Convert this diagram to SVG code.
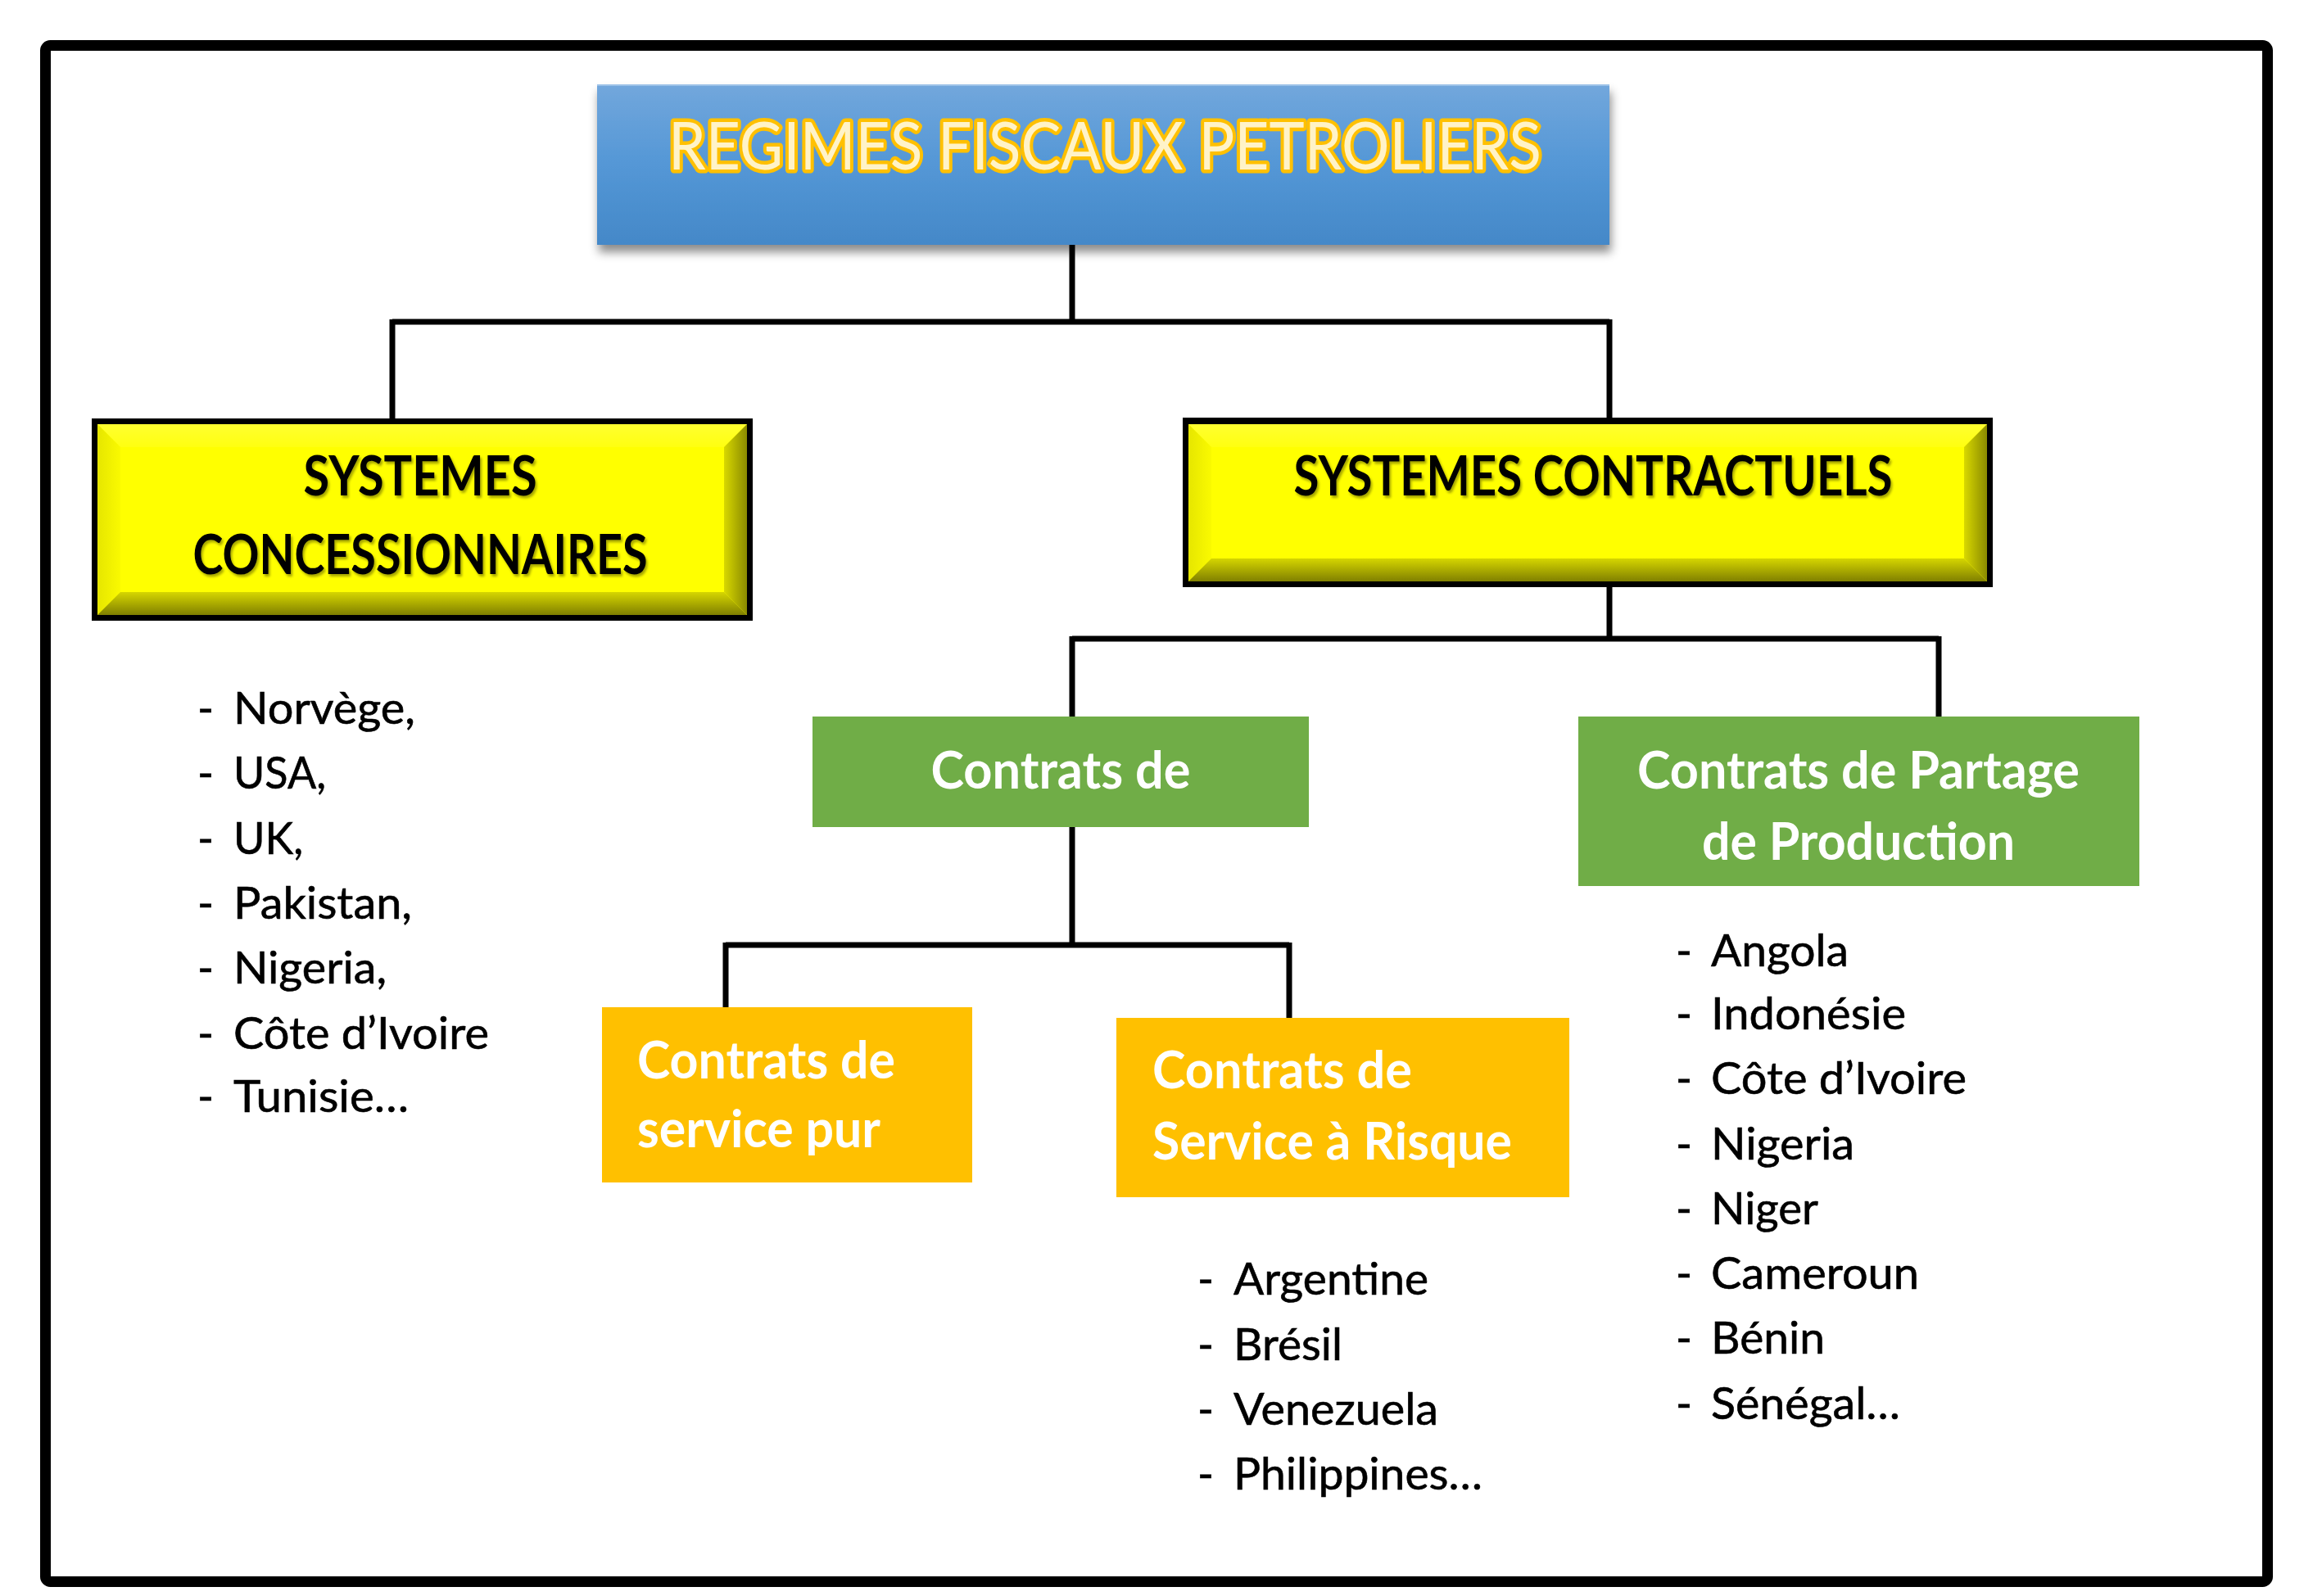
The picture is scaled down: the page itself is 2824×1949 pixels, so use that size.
<svg xmlns="http://www.w3.org/2000/svg" width="2824" height="1949" viewBox="0 0 2824 1949">
<defs>
<linearGradient id="gBlue" x1="0" y1="0" x2="0" y2="1">
<stop offset="0" stop-color="#72a7dc"/>
<stop offset="0.5" stop-color="#5497d6"/>
<stop offset="1" stop-color="#4488c8"/>
</linearGradient>
<linearGradient id="gBot" x1="0" y1="0" x2="0" y2="1">
<stop offset="0" stop-color="#d6d600"/>
<stop offset="1" stop-color="#808000"/>
</linearGradient>
<linearGradient id="gRight" x1="0" y1="0" x2="1" y2="0">
<stop offset="0" stop-color="#d8d800"/>
<stop offset="1" stop-color="#8a8a00"/>
</linearGradient>
<linearGradient id="gLeft" x1="0" y1="0" x2="1" y2="0">
<stop offset="0" stop-color="#e6e600"/>
<stop offset="1" stop-color="#fafa00"/>
</linearGradient>
<linearGradient id="gTop" x1="0" y1="0" x2="0" y2="1">
<stop offset="0" stop-color="#ffff30"/>
<stop offset="1" stop-color="#ffff10"/>
</linearGradient>
<filter id="shadow" x="-10%" y="-20%" width="120%" height="150%">
<feDropShadow dx="2" dy="9" stdDeviation="6" flood-color="#000" flood-opacity="0.45"/>
</filter>
<filter id="tshadow" x="-5%" y="-20%" width="110%" height="150%">
<feDropShadow dx="2" dy="3" stdDeviation="1.5" flood-color="#000" flood-opacity="0.35"/>
</filter>
</defs>
<style>
.frame{fill:none;stroke:#000;stroke-width:13}
.conn{fill:none;stroke:#000;stroke-width:7}
.title{font-family:Lato,"Open Sans","Liberation Sans",sans-serif;font-size:82px;font-weight:400;fill:#fff3c8;stroke:#ffc000;stroke-width:9;paint-order:stroke;stroke-linejoin:round}
.yb{font-family:Lato,"Open Sans","Liberation Sans",sans-serif;font-size:66px;font-weight:700;fill:#000}
.wt{font-family:Lato,"Open Sans","Liberation Sans",sans-serif;font-size:64px;font-weight:700;fill:#fff}
.li{font-family:Lato,"Open Sans","Liberation Sans",sans-serif;font-size:54px;font-weight:400;fill:#000;stroke:#000;stroke-width:0.6}
.border{fill:#000}
.green{fill:#70ad47}
.orange{fill:#ffc000}
</style>

<rect class="frame" x="55.5" y="55.5" width="2713" height="1876" rx="6"/>

<g id="connectors">
<path class="conn" d="M1309 299 V393 M479 393 H1965 M479 390 V511 M1965 390 V510"/>
<path class="conn" d="M1965 717 V780 M1309 780 H2367 M1309 777 V875 M2367 777 V875"/>
<path class="conn" d="M1309 1010 V1154 M886 1154 H1574 M886 1151 V1230 M1574 1151 V1243"/>
</g>

<g id="title">
<rect x="729" y="103" width="1236" height="196" fill="url(#gBlue)" filter="url(#shadow)"/>
<line x1="729" y1="104" x2="1965" y2="104" stroke="#9cc2e8" stroke-width="2"/>
<text class="title" x="1349" y="207" text-anchor="middle" textLength="1066" lengthAdjust="spacingAndGlyphs">REGIMES FISCAUX PETROLIERS</text>
</g>

<g id="concessionnaires">
<rect class="border" x="112" y="511" width="807" height="247"/>
<rect x="119" y="518" width="793" height="233" fill="#ffff00"/>
<polygon points="119,518 912,518 884,546 147,546" fill="url(#gTop)"/>
<polygon points="119,518 147,546 147,723 119,751" fill="url(#gLeft)"/>
<polygon points="912,518 912,751 884,723 884,546" fill="url(#gRight)"/>
<polygon points="119,751 147,723 884,723 912,751" fill="url(#gBot)"/>
<g filter="url(#tshadow)">
<text class="yb" x="513" y="605" text-anchor="middle" textLength="285" lengthAdjust="spacingAndGlyphs">SYSTEMES</text>
<text class="yb" x="513" y="701" text-anchor="middle" textLength="555" lengthAdjust="spacingAndGlyphs">CONCESSIONNAIRES</text>
</g>
</g>

<g id="contractuels">
<rect class="border" x="1444" y="510" width="989" height="207"/>
<rect x="1451" y="518" width="975" height="192" fill="#ffff00"/>
<polygon points="1451,518 2426,518 2398,546 1479,546" fill="url(#gTop)"/>
<polygon points="1451,518 1479,546 1479,682 1451,710" fill="url(#gLeft)"/>
<polygon points="2426,518 2426,710 2398,682 2398,546" fill="url(#gRight)"/>
<polygon points="1451,710 1479,682 2398,682 2426,710" fill="url(#gBot)"/>
<text class="yb" x="1945" y="605" text-anchor="middle" textLength="731" lengthAdjust="spacingAndGlyphs" filter="url(#tshadow)">SYSTEMES CONTRACTUELS</text>
</g>

<g id="contrats-service">
<rect class="green" x="992" y="875" width="606" height="135"/>
<text class="wt" x="1295" y="963" text-anchor="middle" textLength="317" lengthAdjust="spacingAndGlyphs">Contrats de</text>
</g>

<g id="contrats-partage">
<rect class="green" x="1927" y="875" width="685" height="207"/>
<text class="wt" x="2269" y="963" text-anchor="middle" textLength="540" lengthAdjust="spacingAndGlyphs">Contrats de Partage</text>
<text class="wt" x="2269" y="1050" text-anchor="middle" textLength="382" lengthAdjust="spacingAndGlyphs">de Production</text>
</g>

<g id="service-pur">
<rect class="orange" x="735" y="1230" width="452" height="214"/>
<text class="wt" x="778" y="1317" textLength="315" lengthAdjust="spacingAndGlyphs">Contrats de</text>
<text class="wt" x="778" y="1401" textLength="297" lengthAdjust="spacingAndGlyphs">service pur</text>
</g>

<g id="service-risque">
<rect class="orange" x="1363" y="1243" width="553" height="219"/>
<text class="wt" x="1407" y="1329" textLength="317" lengthAdjust="spacingAndGlyphs">Contrats de</text>
<text class="wt" x="1407" y="1416" textLength="439" lengthAdjust="spacingAndGlyphs">Service à Risque</text>
</g>

<g id="list-concessionnaires">
<text class="li" x="241" y="884">-</text><text class="li" x="285" y="884" textLength="222" lengthAdjust="spacingAndGlyphs">Norvège,</text>
<text class="li" x="241" y="963">-</text><text class="li" x="285" y="963" textLength="113" lengthAdjust="spacingAndGlyphs">USA,</text>
<text class="li" x="241" y="1043">-</text><text class="li" x="285" y="1043" textLength="85" lengthAdjust="spacingAndGlyphs">UK,</text>
<text class="li" x="241" y="1122">-</text><text class="li" x="285" y="1122" textLength="218" lengthAdjust="spacingAndGlyphs">Pakistan,</text>
<text class="li" x="241" y="1201">-</text><text class="li" x="285" y="1201" textLength="187" lengthAdjust="spacingAndGlyphs">Nigeria,</text>
<text class="li" x="241" y="1281">-</text><text class="li" x="285" y="1281" textLength="312" lengthAdjust="spacingAndGlyphs">Côte d’Ivoire</text>
<text class="li" x="241" y="1358">-</text><text class="li" x="285" y="1358" textLength="214" lengthAdjust="spacingAndGlyphs">Tunisie…</text>
</g>

<g id="list-risque">
<text class="li" x="1462" y="1581">-</text><text class="li" x="1506" y="1581" textLength="238" lengthAdjust="spacingAndGlyphs">Argentine</text>
<text class="li" x="1462" y="1661">-</text><text class="li" x="1506" y="1661" textLength="133" lengthAdjust="spacingAndGlyphs">Brésil</text>
<text class="li" x="1462" y="1740">-</text><text class="li" x="1506" y="1740" textLength="250" lengthAdjust="spacingAndGlyphs">Venezuela</text>
<text class="li" x="1462" y="1819">-</text><text class="li" x="1506" y="1819" textLength="304" lengthAdjust="spacingAndGlyphs">Philippines…</text>
</g>

<g id="list-partage">
<text class="li" x="2046" y="1180">-</text><text class="li" x="2089" y="1180" textLength="168" lengthAdjust="spacingAndGlyphs">Angola</text>
<text class="li" x="2046" y="1257">-</text><text class="li" x="2089" y="1257" textLength="238" lengthAdjust="spacingAndGlyphs">Indonésie</text>
<text class="li" x="2046" y="1336">-</text><text class="li" x="2089" y="1336" textLength="312" lengthAdjust="spacingAndGlyphs">Côte d’Ivoire</text>
<text class="li" x="2046" y="1416">-</text><text class="li" x="2089" y="1416" textLength="175" lengthAdjust="spacingAndGlyphs">Nigeria</text>
<text class="li" x="2046" y="1495">-</text><text class="li" x="2089" y="1495" textLength="131" lengthAdjust="spacingAndGlyphs">Niger</text>
<text class="li" x="2046" y="1574">-</text><text class="li" x="2089" y="1574" textLength="254" lengthAdjust="spacingAndGlyphs">Cameroun</text>
<text class="li" x="2046" y="1653">-</text><text class="li" x="2089" y="1653" textLength="139" lengthAdjust="spacingAndGlyphs">Bénin</text>
<text class="li" x="2046" y="1733">-</text><text class="li" x="2089" y="1733" textLength="231" lengthAdjust="spacingAndGlyphs">Sénégal…</text>
</g>
</svg>
